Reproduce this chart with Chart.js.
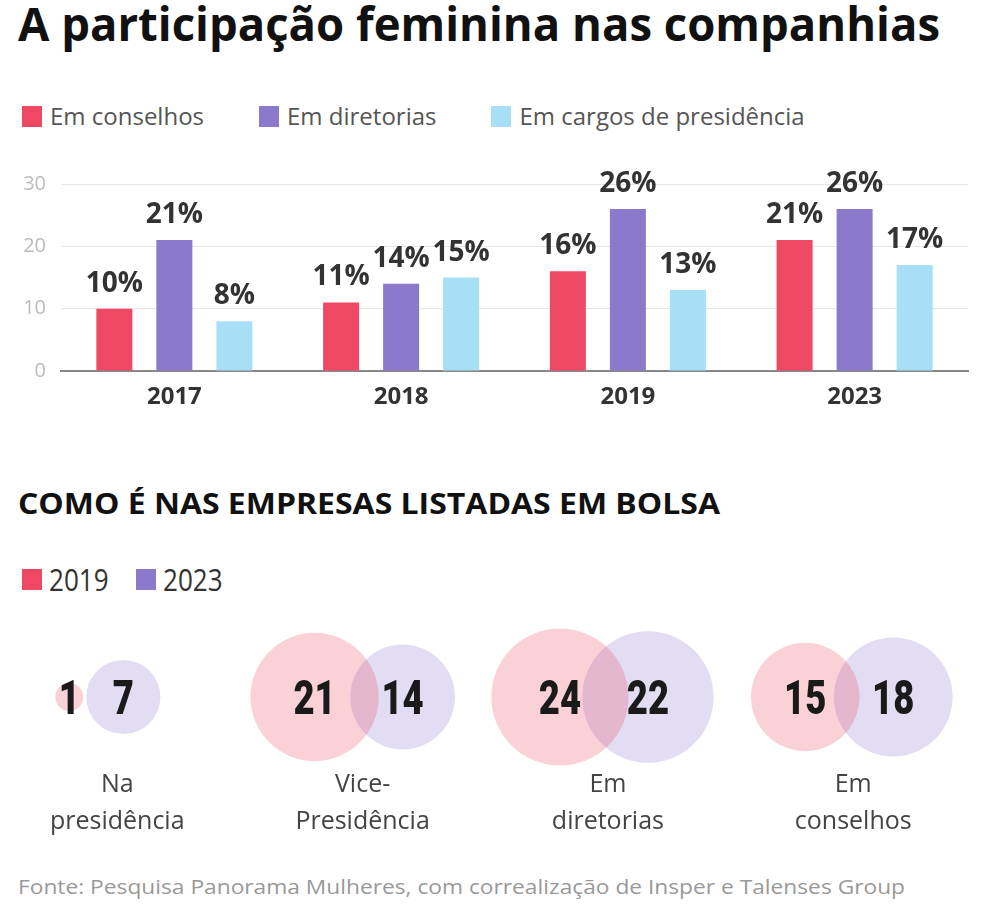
<!DOCTYPE html>
<html>
<head>
<meta charset="utf-8">
<script src="https://cdn.jsdelivr.net/npm/chart.js@4.4.1/dist/chart.umd.min.js"></script>
<style>
  body { margin: 0; background: #fff; width: 984px; height: 910px; position: relative; overflow: hidden; font-family: "Open Sans", sans-serif; }
  .abs { position: absolute; white-space: nowrap; transform-origin: left center; }
  #title { left: 18px; top: 0px; font-size: 46px; line-height: 46px; font-weight: 700; color: #111; }
  #subtitle { left: 18px; top: 488px; font-size: 29px; line-height: 29px; font-weight: 700; color: #111; }
  #source { left: 18px; top: 876px; font-size: 20px; line-height: 22px; color: #999; }
  .legend { position: absolute; left: 22px; display: flex; align-items: center; }
  .legend .item { display: flex; align-items: center; }
  .legend .sw { width: 20px; height: 21px; margin-right: 8px; }
  #legend1 { top: 104px; font-size: 24px; line-height: 24px; color: #555; }
  #legend1 .item { margin-right: 55px; }
  #legend2 { top: 564px; font-size: 31px; line-height: 30px; color: #333; }
  #legend2 .sw { margin-right: 7px; }
  #legend2 .item { margin-right: 16px; }
  #legend2 .txt { display: inline-block; transform: scaleX(0.84); transform-origin: left center; }
  #barBox { position: absolute; left: 0; top: 150px; width: 984px; height: 270px; }
  #bubbleBox { position: absolute; left: 0; top: 600px; width: 984px; height: 245px; }
</style>
</head>
<body>
<div id="title" class="abs">A participação feminina nas companhias</div>
<div id="legend1" class="legend"></div>
<div id="barBox"><canvas id="bars"></canvas></div>
<div id="subtitle" class="abs">COMO É NAS EMPRESAS LISTADAS EM BOLSA</div>
<div id="legend2" class="legend"></div>
<div id="bubbleBox"><canvas id="bubbles"></canvas></div>
<div id="source" class="abs">Fonte: Pesquisa Panorama Mulheres, com correalização de Insper e Talenses Group</div>

<script>
// --- bar chart data (%)
const years = ['2017', '2018', '2019', '2023'];
const seriesNames = ['Em conselhos', 'Em diretorias', 'Em cargos de presidência'];
const conselhos = [10, 11, 16, 21];
const diretorias = [21, 14, 26, 26];
const presidencia = [8, 15, 13, 17];
const yTicks = [0, 10, 20, 30];

// --- listed companies data
const groupLabels = [['Na', 'presidência'], ['Vice-', 'Presidência'], ['Em', 'diretorias'], ['Em', 'conselhos']];
const compareYears = ['2019', '2023'];
const values2019 = [1, 21, 24, 15];
const values2023 = [7, 14, 22, 18];

const RED = '#ef4864';
const PURPLE = '#8b79cc';
const BLUE = '#a6dff6';

function fitWidth(id, w) {
    const el = document.getElementById(id);
    const s = w / el.getBoundingClientRect().width;
    el.style.transform = 'scaleX(' + s + ')';
}

function buildLegend(id, names, colors) {
    const box = document.getElementById(id);
    names.forEach((n, i) => {
        const item = document.createElement('div');
        item.className = 'item';
        item.innerHTML = '<span class="sw" style="background:' + colors[i] + '"></span><span class="txt">' + n + '</span>';
        box.appendChild(item);
    });
}

buildLegend('legend1', seriesNames, [RED, PURPLE, BLUE]);
buildLegend('legend2', compareYears, [RED, PURPLE]);
fitWidth('title', 922);
fitWidth('subtitle', 702);
fitWidth('source', 887);

// value labels above bars
const barLabels = {
    id: 'barLabels',
    afterDatasetsDraw(chart) {
        const ctx = chart.ctx;
        ctx.save();
        ctx.font = 'bold 28px "Open Sans"';
        ctx.fillStyle = '#333';
        ctx.textAlign = 'center';
        ctx.textBaseline = 'alphabetic';
        chart.data.datasets.forEach((ds, di) => {
            chart.getDatasetMeta(di).data.forEach((bar, i) => {
                ctx.fillText(ds.data[i] + '%', bar.x, bar.y - 17);
            });
        });
        ctx.restore();
    }
};

new Chart(document.getElementById('bars'), {
    type: 'bar',
    data: {
        labels: years,
        datasets: [
            { label: seriesNames[0], data: conselhos, backgroundColor: RED },
            { label: seriesNames[1], data: diretorias, backgroundColor: PURPLE },
            { label: seriesNames[2], data: presidencia, backgroundColor: BLUE }
        ]
    },
    options: {
        responsive: true,
        maintainAspectRatio: false,
        animation: false,
        datasets: { bar: { categoryPercentage: 0.794, barPercentage: 0.6 } },
        layout: { padding: { left: 0, right: 16, top: 34, bottom: 9 } },
        plugins: { legend: { display: false }, tooltip: { enabled: false } },
        scales: {
            x: {
                afterFit(scale) { scale.height = 40; },
                grid: { display: false },
                border: { color: '#888', width: 2 },
                ticks: { color: '#333', padding: 4, font: { family: 'Open Sans', weight: 'bold', size: 24 } }
            },
            y: {
                min: 0,
                max: 30,
                afterBuildTicks(scale) { scale.ticks = yTicks.map(v => ({ value: v })); },
                afterFit(scale) { scale.width = 61; },
                ticks: { color: '#bbb', padding: 15, font: { family: 'Open Sans', size: 20 } },
                grid: { drawTicks: false, color: ctx => ctx.tick && ctx.tick.value === 0 ? 'rgba(0,0,0,0)' : '#e6e6e6' },
                border: { display: false }
            }
        }
    },
    plugins: [barLabels]
});

// bubbles: area proportional to value
const radius = v => 14 * Math.sqrt(v);
const X_MIN = -0.478, X_MAX = 3.533;
const PX_PER_UNIT = 984 / (X_MAX - X_MIN);
const pinkPts = [], purplePts = [];
values2019.forEach((v, i) => {
    const r1 = radius(v), r2 = radius(values2023[i]);
    const gap = Math.min(88, r1 + r2 + 3);
    const x1 = i - 48 / PX_PER_UNIT;
    pinkPts.push({ x: x1, y: 0, r: r1, v: v });
    purplePts.push({ x: x1 + gap / PX_PER_UNIT, y: 0, r: r2, v: values2023[i] });
});

const bubbleNumbers = {
    id: 'bubbleNumbers',
    afterDatasetsDraw(chart) {
        const ctx = chart.ctx;
        chart.data.datasets.forEach((ds, di) => {
            chart.getDatasetMeta(di).data.forEach((pt, i) => {
                ctx.save();
                ctx.translate(pt.x, pt.y + 17);
                ctx.scale(0.76, 1);
                ctx.font = '900 48px Roboto, "Open Sans", sans-serif';
                ctx.fillStyle = '#1a1a1a';
                ctx.textAlign = 'center';
                ctx.textBaseline = 'alphabetic';
                ctx.fillText(String(ds.data[i].v), 0, 0);
                ctx.restore();
            });
        });
    }
};

new Chart(document.getElementById('bubbles'), {
    type: 'bubble',
    data: {
        datasets: [
            { label: compareYears[0], data: pinkPts, backgroundColor: 'rgba(239,72,100,0.25)', borderWidth: 0, clip: false },
            { label: compareYears[1], data: purplePts, backgroundColor: 'rgba(139,121,204,0.25)', borderWidth: 0, clip: false }
        ]
    },
    options: {
        responsive: true,
        maintainAspectRatio: false,
        animation: false,
        layout: { autoPadding: false, padding: { left: 0, right: 0, top: 39, bottom: 0 } },
        plugins: { legend: { display: false }, tooltip: { enabled: false } },
        scales: {
            x: {
                type: 'linear',
                min: X_MIN,
                max: X_MAX,
                afterBuildTicks(scale) { scale.ticks = groupLabels.map((_, i) => ({ value: i })); },
                afterFit(scale) { scale.height = 90; },
                grid: { display: false },
                border: { display: false },
                ticks: {
                    color: '#444',
                    padding: 4,
                    maxRotation: 0,
                    autoSkip: false,
                    font: { family: 'Open Sans', size: 25, lineHeight: 1.45 },
                    callback: (v, i) => groupLabels[i]
                }
            },
            y: { display: false, min: -1, max: 1 }
        }
    },
    plugins: [bubbleNumbers]
});
</script>
</body>
</html>
